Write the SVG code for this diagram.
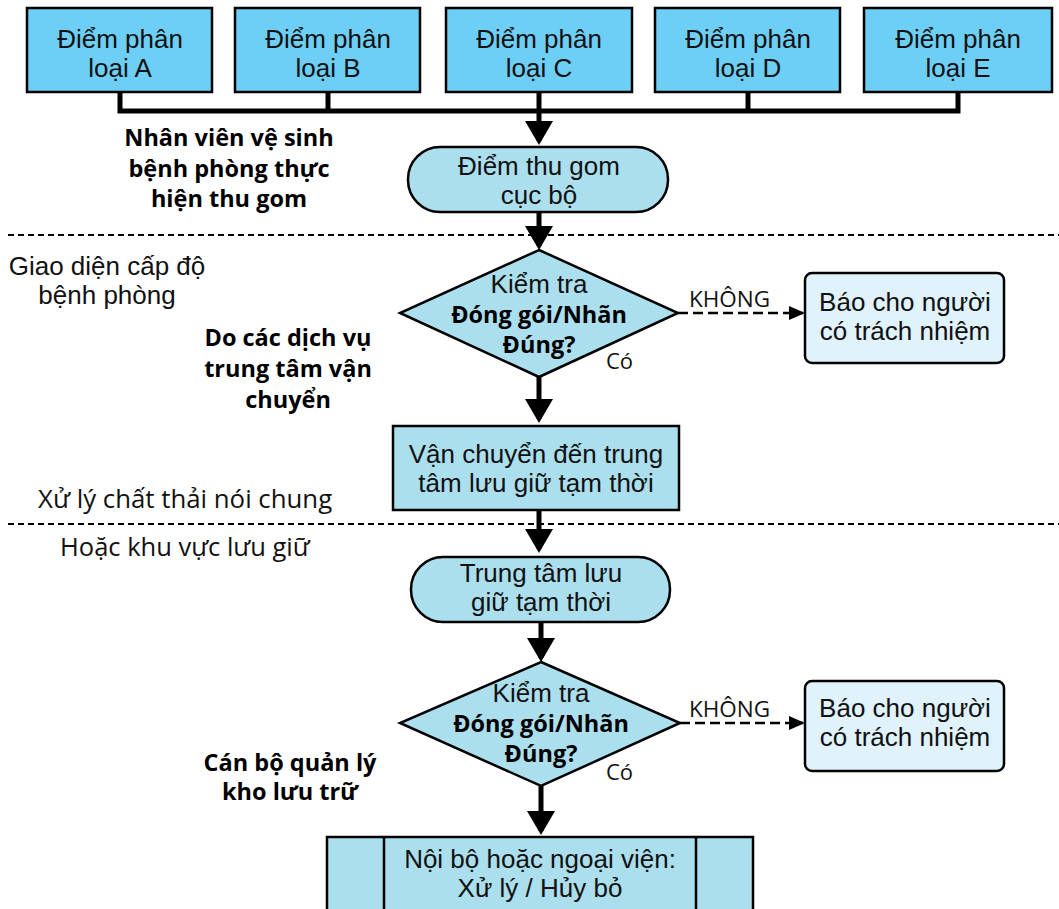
<svg xmlns="http://www.w3.org/2000/svg" width="1059" height="909" viewBox="0 0 1059 909">
<style>
.top{fill:#6dcff6;stroke:#000;stroke-width:2.5}
.node{fill:#abdfee;stroke:#000;stroke-width:2.5}
.note{fill:#e0f2fb;stroke:#000;stroke-width:2.5}
.t{font-family:"Liberation Sans",Arial,sans-serif;font-size:26px;fill:#111;text-anchor:middle}
.m{font-family:"Open Sans","Noto Sans",sans-serif;fill:#111}
.b{font-family:"Open Sans","Noto Sans",sans-serif;font-weight:bold;font-size:23.5px;fill:#000;text-anchor:middle}
.flow{fill:none;stroke:#000;stroke-width:5}
.dash{fill:none;stroke:#000;stroke-width:2.5;stroke-dasharray:10,5}
.sep{fill:none;stroke:#000;stroke-width:2;stroke-dasharray:6,4}
</style>
<defs>
<marker id="big" markerUnits="userSpaceOnUse" markerWidth="24" markerHeight="28" refX="20" refY="14" orient="auto"><path d="M0,0 L24,14 L0,28 z" fill="#000"/></marker>
<marker id="small" markerUnits="userSpaceOnUse" markerWidth="16" markerHeight="14" refX="14" refY="7" orient="auto"><path d="M0,0 L16,7 L0,14 z" fill="#000"/></marker>
</defs>
<rect width="1059" height="909" fill="#fff"/>

<g id="separators">
<line class="sep" x1="8" y1="235" x2="1059" y2="235"/>
<line class="sep" x1="8" y1="524" x2="1059" y2="524"/>
</g>

<g id="connectors">
<polyline class="flow" points="120,92 120,111 958,111 958,92"/>
<line class="flow" x1="328" y1="92" x2="328" y2="111"/>
<line class="flow" x1="748" y1="92" x2="748" y2="111"/>
<line class="flow" x1="539" y1="92" x2="539" y2="141" marker-end="url(#big)"/>
<line class="flow" x1="539" y1="212" x2="539" y2="246" marker-end="url(#big)"/>
<line class="flow" x1="539" y1="377" x2="539" y2="419" marker-end="url(#big)"/>
<line class="flow" x1="539" y1="510" x2="539" y2="549" marker-end="url(#big)"/>
<line class="flow" x1="541" y1="622" x2="541" y2="658" marker-end="url(#big)"/>
<line class="flow" x1="541" y1="786" x2="541" y2="831" marker-end="url(#big)"/>
<line class="dash" x1="678" y1="313" x2="803" y2="313" marker-end="url(#small)"/>
<line class="dash" x1="680" y1="723" x2="803" y2="723" marker-end="url(#small)"/>
<text class="m" x="689" y="307" font-size="22.5">KHÔNG</text>
<text class="m" x="689" y="717" font-size="22.5">KHÔNG</text>
<text class="m" x="606" y="369" font-size="22">Có</text>
<text class="m" x="606" y="780" font-size="22">Có</text>
</g>

<g id="nodeA"><rect class="top" x="27" y="8" width="185" height="84"/><text class="t" x="120" y="48">Điểm phân</text><text class="t" x="120" y="77">loại A</text></g>
<g id="nodeB"><rect class="top" x="235" y="8" width="185" height="84"/><text class="t" x="328" y="48">Điểm phân</text><text class="t" x="328" y="77">loại B</text></g>
<g id="nodeC"><rect class="top" x="446" y="8" width="186" height="84"/><text class="t" x="539" y="48">Điểm phân</text><text class="t" x="539" y="77">loại C</text></g>
<g id="nodeD"><rect class="top" x="655" y="8" width="185" height="84"/><text class="t" x="748" y="48">Điểm phân</text><text class="t" x="748" y="77">loại D</text></g>
<g id="nodeE"><rect class="top" x="864" y="8" width="188" height="84"/><text class="t" x="958" y="48">Điểm phân</text><text class="t" x="958" y="77">loại E</text></g>

<g id="collect"><rect class="node" x="408" y="147" width="260" height="65" rx="32"/><text class="t" x="539" y="175">Điểm thu gom</text><text class="t" x="539" y="204">cục bộ</text></g>

<g id="check1"><polygon class="node" points="539,250 678,313 539,377 400,313"/><text class="t" x="539" y="293">Kiểm tra</text><text class="b" x="539" y="323">Đóng gói/Nhãn</text><text class="b" x="539" y="353">Đúng?</text></g>

<g id="notify1"><rect class="note" x="805" y="273" width="199" height="90" rx="7"/><text class="t" x="905" y="311">Báo cho người</text><text class="t" x="905" y="340">có trách nhiệm</text></g>

<g id="transport"><rect class="node" x="393" y="426" width="286" height="84"/><text class="t" x="536" y="463">Vận chuyển đến trung</text><text class="t" x="536" y="492">tâm lưu giữ tạm thời</text></g>

<g id="storage"><rect class="node" x="411" y="557" width="259" height="65" rx="32"/><text class="t" x="541" y="582">Trung tâm lưu</text><text class="t" x="541" y="611">giữ tạm thời</text></g>

<g id="check2"><polygon class="node" points="541,662 680,723 541,786 400,723"/><text class="t" x="541" y="702">Kiểm tra</text><text class="b" x="541" y="732">Đóng gói/Nhãn</text><text class="b" x="541" y="762">Đúng?</text></g>

<g id="notify2"><rect class="note" x="805" y="681" width="199" height="90" rx="7"/><text class="t" x="905" y="717">Báo cho người</text><text class="t" x="905" y="746">có trách nhiệm</text></g>

<g id="disposal"><rect class="node" x="327" y="837" width="426" height="90"/><line x1="384" y1="837" x2="384" y2="909" stroke="#000" stroke-width="2.5"/><line x1="696" y1="837" x2="696" y2="909" stroke="#000" stroke-width="2.5"/><text class="t" x="540" y="868">Nội bộ hoặc ngoại viện:</text><text class="t" x="540" y="897">Xử lý / Hủy bỏ</text></g>

<g id="labels">
<text class="b" x="229" y="146">Nhân viên vệ sinh</text>
<text class="b" x="229" y="177">bệnh phòng thực</text>
<text class="b" x="229" y="207">hiện thu gom</text>
<text class="t" x="107" y="275">Giao diện cấp độ</text>
<text class="t" x="107" y="304">bệnh phòng</text>
<text class="b" x="288" y="346">Do các dịch vụ</text>
<text class="b" x="288" y="377">trung tâm vận</text>
<text class="b" x="288" y="408">chuyển</text>
<text class="m" x="38" y="508" font-size="25.8">Xử lý chất thải nói chung</text>
<text class="m" x="60" y="556" font-size="25.5">Hoặc khu vực lưu giữ</text>
<text class="b" x="290" y="771">Cán bộ quản lý</text>
<text class="b" x="290" y="800">kho lưu trữ</text>
</g>
</svg>
